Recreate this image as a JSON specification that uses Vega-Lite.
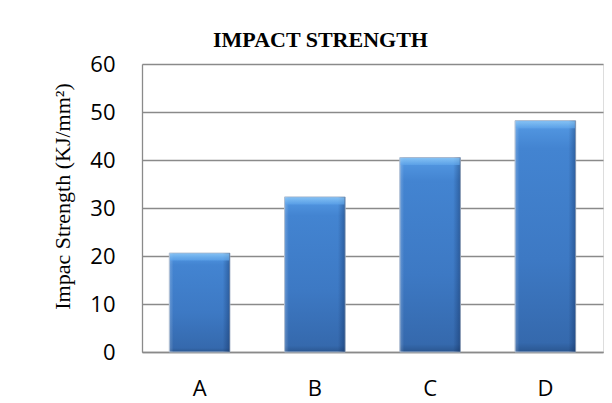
{
  "$schema": "https://vega.github.io/schema/vega-lite/v6.json",
  "width": 461,
  "height": 288,
  "autosize": {"type": "none"},
  "padding": {"left": 142, "top": 64, "right": 9, "bottom": 51},
  "background": "white",
  "title": {
    "text": "IMPACT STRENGTH",
    "font": "Liberation Serif",
    "fontWeight": "bold",
    "fontSize": 22,
    "color": "#000000",
    "anchor": "start",
    "frame": "group",
    "dx": 71,
    "offset": 1
  },
  "data": {
    "values": [
      {"sample": "A", "strength": 20.6},
      {"sample": "B", "strength": 32.3},
      {"sample": "C", "strength": 40.5},
      {"sample": "D", "strength": 48.2}
    ]
  },
  "encoding": {
    "x": {
      "field": "sample",
      "type": "nominal",
      "sort": null,
      "scale": {"paddingInner": 0.474, "paddingOuter": 0.237},
      "axis": {
        "title": null,
        "labelAngle": 0,
        "labelFont": "Open Sans",
        "labelFontSize": 22,
        "labelColor": "#000000",
        "labelPadding": 26,
        "ticks": false,
        "domainColor": "#8a8a8a",
        "domainWidth": 1.3,
        "grid": false
      }
    },
    "y": {
      "field": "strength",
      "type": "quantitative",
      "scale": {"domain": [0, 60], "nice": false},
      "axis": {
        "values": [0, 10, 20, 30, 40, 50, 60],
        "title": "Impac Strength  (KJ/mm²)",
        "titleFont": "Liberation Serif",
        "titleFontWeight": "normal",
        "titleFontSize": 22,
        "titleColor": "#000000",
        "titlePadding": 15,
        "titleY": 132,
        "labelFont": "Open Sans",
        "labelFontSize": 22,
        "labelColor": "#000000",
        "labelPadding": 27,
        "ticks": false,
        "domainColor": "#8a8a8a",
        "domainWidth": 1.3,
        "grid": true,
        "gridColor": "#8a8a8a",
        "gridWidth": 1.3
      }
    }
  },
  "layer": [
    {
      "mark": {
        "type": "bar",
        "stroke": "#a7b7cc",
        "strokeWidth": 1,
        "fill": {
          "gradient": "linear",
          "x1": 0, "y1": 0, "x2": 0, "y2": 1,
          "stops": [
            {"offset": 0, "color": "#6fb0f0"},
            {"offset": 0.04, "color": "#4f93de"},
            {"offset": 0.12, "color": "#4384d1"},
            {"offset": 0.6, "color": "#3d79c4"},
            {"offset": 0.96, "color": "#3569ad"},
            {"offset": 1, "color": "#2a5690"}
          ]
        }
      }
    },
    {
      "mark": {
        "type": "bar",
        "fill": {
          "gradient": "linear",
          "x1": 0, "y1": 0, "x2": 1, "y2": 0,
          "stops": [
            {"offset": 0, "color": "rgba(255,255,255,0.22)"},
            {"offset": 0.07, "color": "rgba(255,255,255,0)"},
            {"offset": 0.88, "color": "rgba(0,20,60,0)"},
            {"offset": 1, "color": "rgba(0,20,60,0.32)"}
          ]
        }
      }
    },
    {
      "mark": {
        "type": "tick",
        "thickness": 7,
        "size": 59,
        "yOffset": 4,
        "fill": {
          "gradient": "linear",
          "x1": 0, "y1": 0, "x2": 0, "y2": 1,
          "stops": [
            {"offset": 0, "color": "#8cc8f6"},
            {"offset": 1, "color": "#5ea4ea"}
          ]
        }
      }
    }
  ]
}
